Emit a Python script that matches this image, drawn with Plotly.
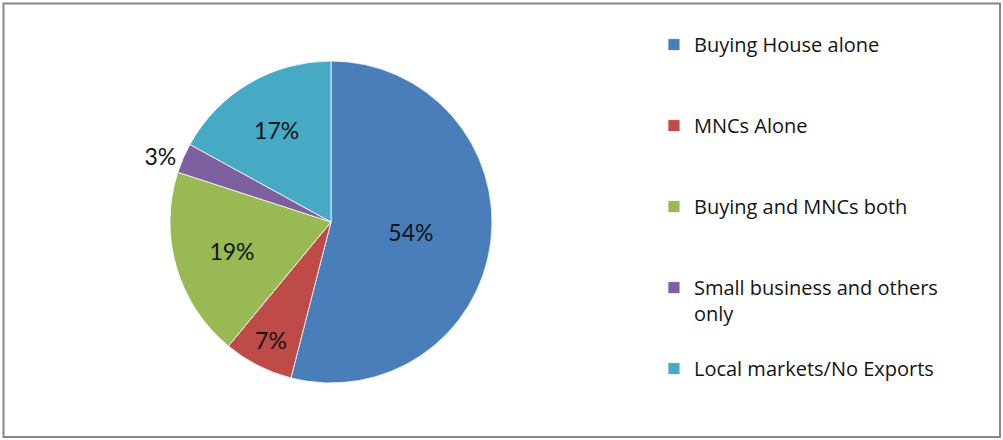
import plotly.graph_objects as go

labels = ["Buying House alone", "MNCs Alone", "Buying and MNCs both",
          "Small business and others only", "Local markets/No Exports"]
values = [54, 7, 19, 3, 17]
colors = ["#4A7EBB", "#BE4B48", "#98B954", "#7D60A0", "#46AAC5"]
legend_labels = ["Buying House alone<br> <br> ", "MNCs Alone<br> <br> ",
                 "Buying and MNCs both<br> <br> ",
                 "Small business and others<br>only<br> ", "Local markets/No Exports"]
text_pos = ["inside", "inside", "inside", "outside", "inside"]

W, H = 1003, 440
FONT = "Lato"
LEG_FONT = "Open Sans"

fig = go.Figure(go.Pie(
    labels=legend_labels,
    values=values,
    sort=False,
    direction="clockwise",
    rotation=0,
    marker=dict(colors=colors, line=dict(color="white", width=0.8)),
    textinfo="percent",
    texttemplate="%{percent:.0%}",
    textposition=text_pos,
    insidetextorientation="horizontal",
    textfont=dict(family=FONT, size=23, color="#141414"),
    domain=dict(x=[0.12, 0.54], y=[0.1295, 0.8614]),
    hoverinfo="percent",
))

fig.update_layout(
    width=W, height=H,
    margin=dict(l=0, r=0, t=0, b=0),
    paper_bgcolor="white",
    plot_bgcolor="white",
    font=dict(family=FONT, size=20, color="#141414"),
    showlegend=True,
    legend=dict(x=0.652, y=0.943, xanchor="left", yanchor="top",
                valign="top", font=dict(family=LEG_FONT, size=20, color="#141414"),
                itemwidth=30, bgcolor="rgba(0,0,0,0)"),
    shapes=[dict(type="rect", xref="paper", yref="paper",
                 x0=3.5 / W, x1=1000 / W, y0=1 - 437 / H, y1=1 - 3.5 / H,
                 line=dict(color="#878787", width=2), fillcolor="rgba(0,0,0,0)")],
)

fig.write_html("out.html",
               config={"displayModeBar": False},
               post_script="document.body.style.margin='0px';document.body.style.overflow='hidden';")
